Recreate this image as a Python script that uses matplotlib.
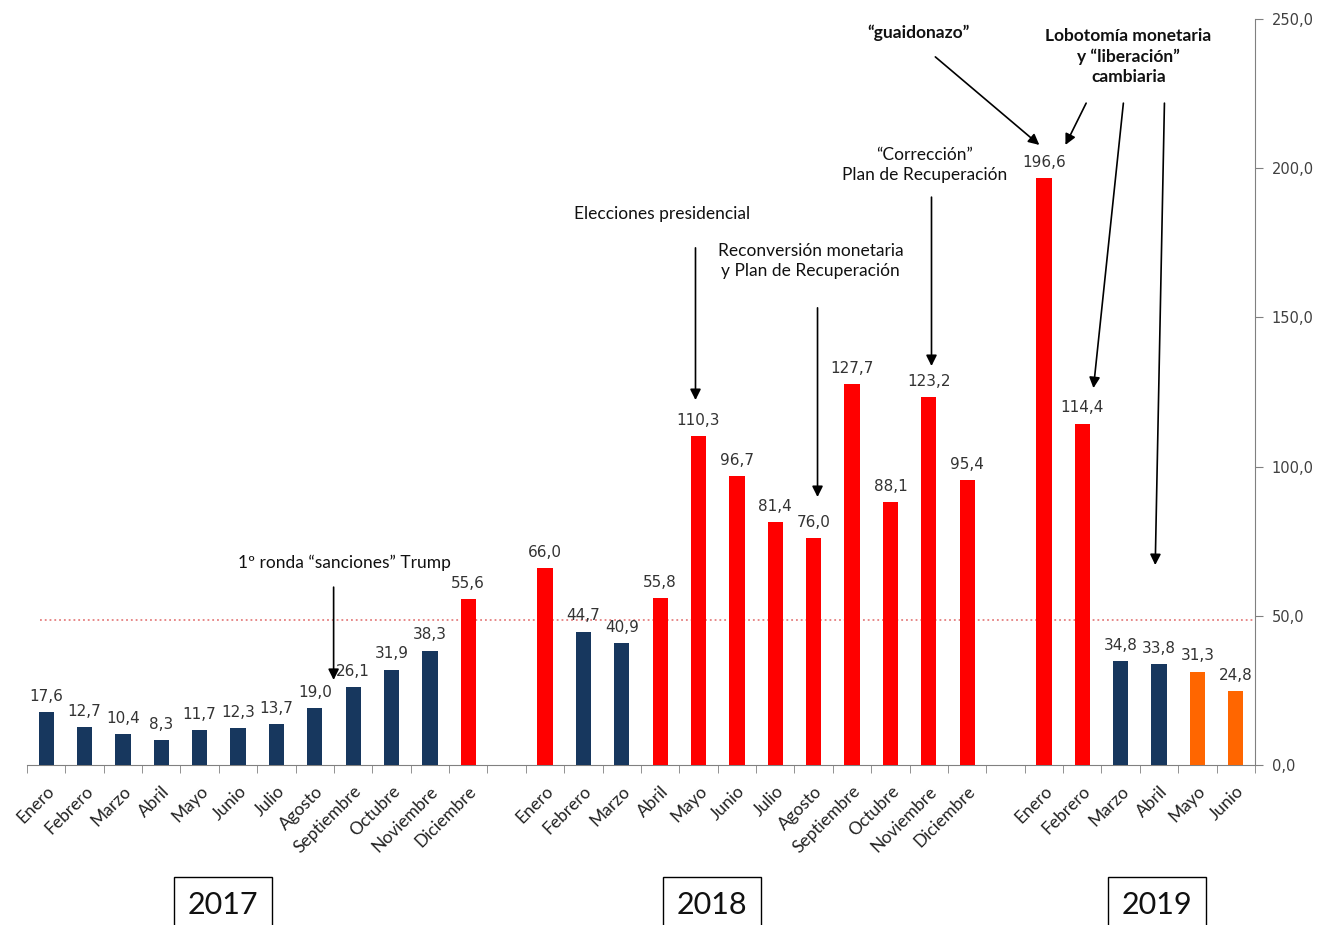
import matplotlib
matplotlib.use("Agg")
from matplotlib import pyplot as plt
from matplotlib.transforms import blended_transform_factory
import numpy as np

months = ["Enero", "Febrero", "Marzo", "Abril", "Mayo", "Junio", "Julio",
          "Agosto", "Septiembre", "Octubre", "Noviembre", "Diciembre"]

values_2017 = [17.6, 12.7, 10.4, 8.3, 11.7, 12.3, 13.7, 19.0, 26.1, 31.9, 38.3, 55.6]
values_2018 = [66.0, 44.7, 40.9, 55.8, 110.3, 96.7, 81.4, 76.0, 127.7, 88.1, 123.2, 95.4]
values_2019 = [196.6, 114.4, 34.8, 33.8, 31.3, 24.8]

NAVY, RED, ORANGE = "#17375E", "#FF0000", "#FF6600"
colors_2017 = [NAVY] * 11 + [RED]
colors_2018 = [RED, NAVY, NAVY] + [RED] * 9
colors_2019 = [RED, RED, NAVY, NAVY, ORANGE, ORANGE]

reference_level = 48.6

years = ["2017", "2018", "2019"]
year_box_x = [4.6, 17.35, 28.95]

# (text, text x, text y, bold, [(arrow start), (arrow end)] ...)
events = [
    ("1º ronda “sanciones” Trump", 7.78, 67.7, False, [((7.49, 59.6), (7.49, 28.5))]),
    ("Elecciones presidencial", 16.06, 184.6, False, [((16.92, 173.3), (16.92, 122.3))]),
    ("Reconversión monetaria\ny Plan de Recuperación", 19.92, 168.9, False,
     [((20.1, 153.2), (20.1, 89.8))]),
    ("“Corrección”\nPlan de Recuperación", 22.89, 201.1, False,
     [((23.07, 190.3), (23.07, 133.7))]),
    ("“guaidonazo”", 22.73, 245.3, True, [((23.17, 237.3), (25.88, 207.8))]),
    ("Lobotomía monetaria\ny “liberación”\ncambiaria", 28.2, 237.4, True,
     [((27.1, 221.8), (26.56, 207.8)),
      ((28.07, 221.8), (27.29, 126.3)),
      ((29.14, 221.8), (28.9, 67.0))]),
]


def main():
    x_2017 = np.arange(12)
    x_2018 = np.arange(13, 25)
    x_2019 = np.arange(26, 32)
    x_all = np.concatenate([x_2017, x_2018, x_2019])
    values = values_2017 + values_2018 + values_2019
    colors = colors_2017 + colors_2018 + colors_2019
    labels = months + months + months[:6]

    fig = plt.figure(figsize=(13.33, 9.25), dpi=100)
    ax = fig.add_axes([27 / 1333, 1 - 765 / 925, 1228 / 1333, 746 / 925])

    ax.bar(x_all, values, width=0.4, color=colors, zorder=3)

    for x, v in zip(x_all, values):
        ax.annotate(f"{v:.1f}".replace(".", ","), (x, v), xytext=(0, 6),
                    textcoords="offset points", ha="center", va="bottom",
                    fontsize=11, color="#333333", family="DejaVu Sans")

    ax.hlines(reference_level, -0.15, 31.5, colors="#E57F7F", linestyles=":",
              lw=1.3, zorder=2)

    ax.set_xlim(-0.5, 31.5)
    ax.set_ylim(0, 250)

    # right-hand value axis
    ax.yaxis.tick_right()
    ax.set_yticks(np.arange(0, 251, 50))
    ax.set_yticklabels([f"{t:.1f}".replace(".", ",") for t in np.arange(0, 251, 50)])
    ax.tick_params(axis="y", length=6, color="#808080", labelsize=10.5,
                   labelcolor="#404040", pad=6)
    for lbl in ax.get_yticklabels():
        lbl.set_family("DejaVu Sans")

    ax.set_xticks(x_all)
    ax.set_xticklabels(labels, rotation=45, ha="right", rotation_mode="anchor",
                       family="Lato", fontsize=12.5, color="#222222")
    ax.set_xticks(np.arange(-0.5, 32, 1), minor=True)
    ax.tick_params(axis="x", which="major", length=0, pad=13)
    ax.tick_params(axis="x", which="minor", length=6, color="#808080")

    for side in ["top", "left"]:
        ax.spines[side].set_visible(False)
    ax.spines["right"].set_color("#808080")
    ax.spines["bottom"].set_color("#808080")

    for text, tx, ty, bold, arrows in events:
        ax.text(tx, ty, text, ha="center", va="center", family="Lato",
                fontsize=12.5, fontweight="bold" if bold else "normal",
                color="#111111", linespacing=1.3)
        for start, end in arrows:
            ax.annotate("", xy=end, xytext=start,
                        arrowprops=dict(arrowstyle="-|>", color="black", lw=1.2,
                                        mutation_scale=16, shrinkA=0, shrinkB=0))

    box_transform = blended_transform_factory(ax.transData, fig.transFigure)
    for year, bx in zip(years, year_box_x):
        ax.text(bx, 1 - 905 / 925, year, transform=box_transform, ha="center",
                va="center", family="Lato", fontsize=22, color="#111111",
                clip_on=False,
                bbox=dict(boxstyle="square,pad=0.45", fc="white", ec="black", lw=1))

    fig.savefig("out.png", dpi=100)


if __name__ == "__main__":
    main()
